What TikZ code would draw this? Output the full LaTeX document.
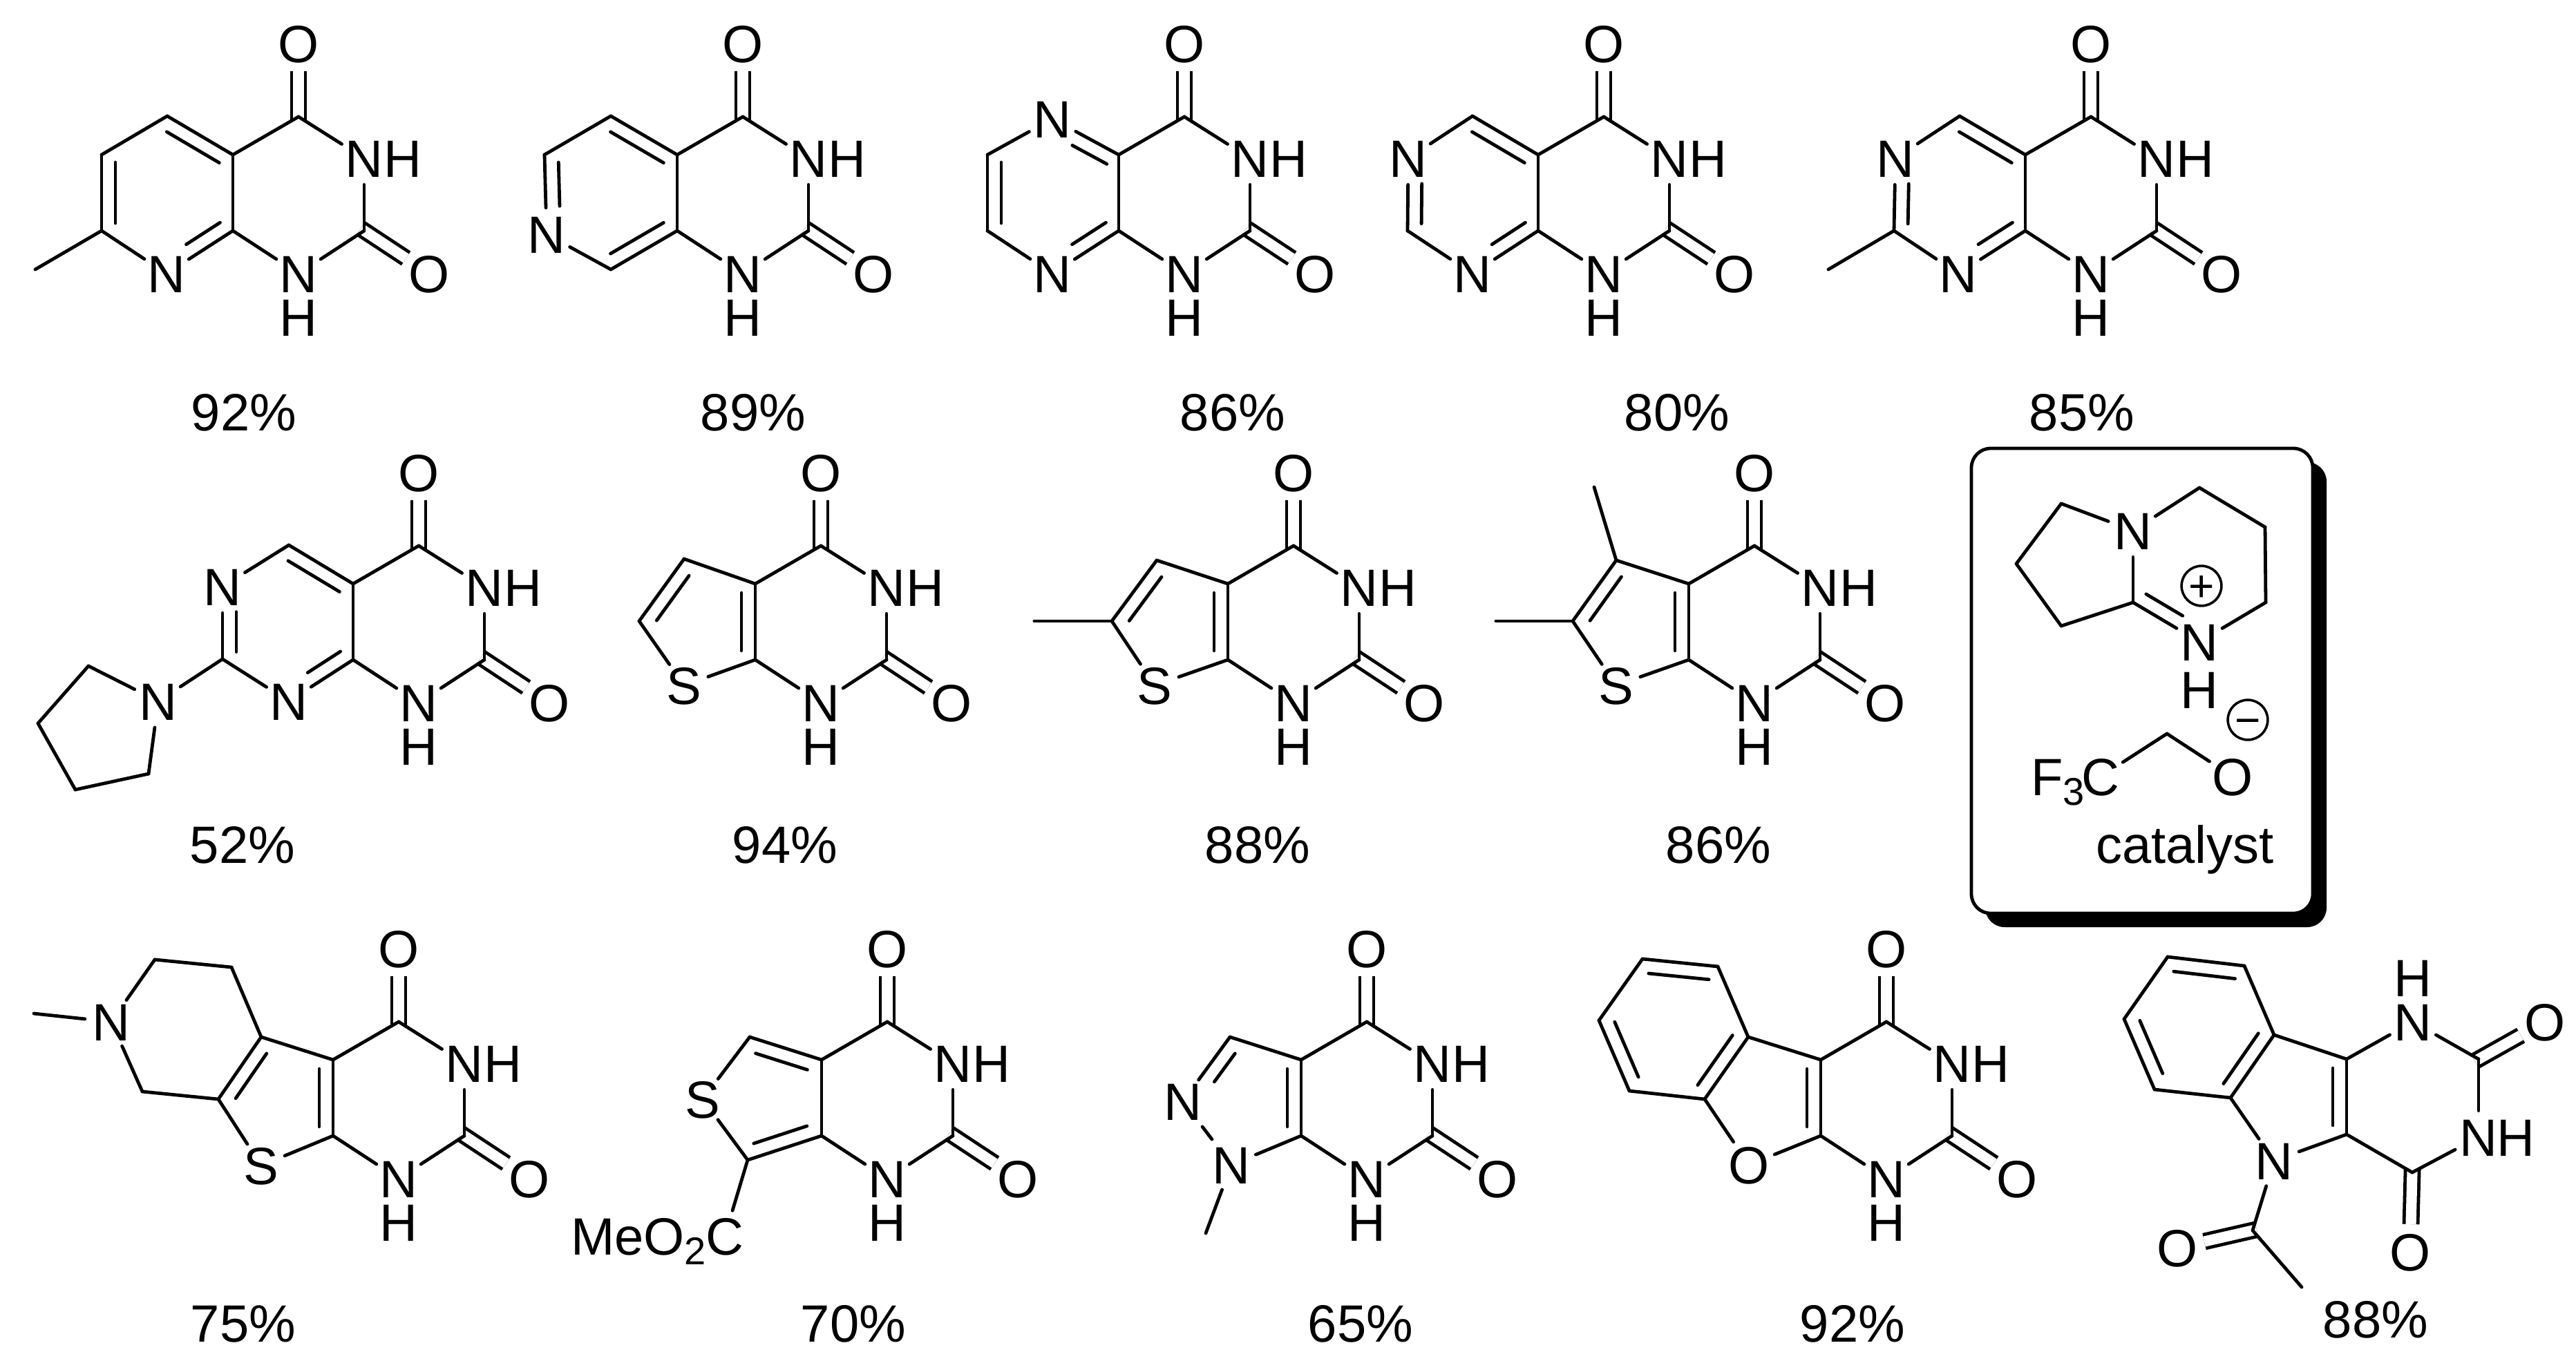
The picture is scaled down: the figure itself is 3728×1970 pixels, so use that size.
\documentclass[tikz,border=0pt]{standalone}
\usepackage{fontspec}
\setmainfont{Liberation Sans}
\usetikzlibrary{calc}

\newcommand{\atomfont}{\fontsize{19}{22}\selectfont}
\newcommand{\subnum}[1]{\raisebox{-3.7pt}{\fontsize{14}{14}\selectfont #1}}

\newcommand{\dbl}[4]{%
  \path[bond] (#1) edge (#2);
  \draw[bond] ($(#1)!#3!(#2)!5pt!90:(#2)$) -- ($(#1)!#4!(#2)!5pt!90:(#2)$);
}

\newcommand{\uracil}[3]{%
  \coordinate (#1c4a) at (#2,#3);
  \coordinate (#1c8a) at (#2,#3+110);
  \coordinate (#1c4) at (#2+95,#3-55);
  \coordinate (#1c2) at (#2+190,#3+110);
  \node[atom] (#1n3) at (#2+190,#3+5) {N};
  \node[atomh] (#1h3) at (#2+246,#3+5) {H};
  \node[atom] (#1n1) at (#2+95,#3+172) {N};
  \node[atomh] (#1h1) at (#2+95,#3+235) {H};
  \node[atom] (#1o4) at (#2+95,#3-161) {O};
  \node[atom] (#1o2) at (#2+284,#3+172) {O};
  \draw[cdo] (#1c4) -- (#1o4);
  \draw[cdo] (#1c2) -- (#1o2);
  \path[bond] (#1c4a) edge (#1c4) (#1c4) edge (#1n3) (#1n3) edge (#1c2)
    (#1c2) edge (#1n1) (#1n1) edge (#1c8a);
}

\begin{document}
\begin{tikzpicture}[
            x = 0.25pt, % one unit is one pixel of the reference
            y = -0.25pt,
        ]

        \tikzstyle{bond}=[
            draw,
            line width = 1.2pt,
            line cap = round
        ]
        \tikzstyle{cdo}=[
            draw,
            line width = 1.2pt,
            double,
            double distance = 3.8pt,
            shorten < = -1.5pt
        ]
        \tikzstyle{atomh}=[
            font = \atomfont,
            inner sep = 0pt,
            outer sep = 0pt,
            text height = 13.5pt,
            text depth = 0pt
        ]
        \tikzstyle{atom}=[atomh, circle]
        \tikzstyle{yield}=[atomh]
        \tikzstyle{charge}=[
            draw,
            circle,
            line width = 0.9pt,
            inner sep = 0pt,
            minimum size = 14.4pt,
            font = \fontsize{16}{16}\selectfont,
            text height = 11pt,
            text depth = 0pt
        ]

  \useasboundingbox (0,0) rectangle (3728,1970);

  % row 1
  \uracil{m1}{337}{224}
  \coordinate (m1c5) at (242,168);
  \coordinate (m1c6) at (147,224);
  \coordinate (m1c7) at (147,334);
  \coordinate (m1me) at (51,390);
  \node[atom] (m1n8) at (241,396) {N};
  \dbl{m1c4a}{m1c5}{.1}{.9}
  \dbl{m1c6}{m1c7}{.1}{.9}
  \dbl{m1n8}{m1c8a}{.41}{.92}
  \path[bond] (m1c4a) edge (m1c8a) (m1c5) edge (m1c6) (m1c7) edge (m1n8) (m1c7) edge (m1me);
  \node[yield] (y1) at (353,596) {92\%};

  \uracil{m2}{980}{224}
  \coordinate (m2c5) at (884,168);
  \coordinate (m2c6) at (788,224);
  \coordinate (m2c8) at (884,390);
  \node[atom] (m2n7) at (791,339) {N};
  \dbl{m2c4a}{m2c5}{.1}{.9}
  \dbl{m2c6}{m2n7}{.1}{.65}
  \dbl{m2c8}{m2c8a}{.1}{.9}
  \path[bond] (m2c4a) edge (m2c8a) (m2c5) edge (m2c6) (m2n7) edge (m2c8);
  \node[yield] (y2) at (1090,596) {89\%};

  \uracil{m3}{1619}{224}
  \coordinate (m3c6) at (1429,224);
  \coordinate (m3c7) at (1429,334);
  \node[atom] (m3n5) at (1523,172) {N};
  \node[atom] (m3n8) at (1523,396) {N};
  \dbl{m3c4a}{m3n5}{.08}{.6}
  \dbl{m3c6}{m3c7}{.1}{.9}
  \dbl{m3n8}{m3c8a}{.41}{.92}
  \path[bond] (m3c4a) edge (m3c8a) (m3n5) edge (m3c6) (m3c7) edge (m3n8);
  \node[yield] (y3) at (1784,596) {86\%};

  \uracil{m4}{2226}{224}
  \coordinate (m4c5) at (2131,168);
  \coordinate (m4c7) at (2037,334);
  \node[atom] (m4n6) at (2038,229) {N};
  \node[atom] (m4n8) at (2131,396) {N};
  \dbl{m4c4a}{m4c5}{.1}{.9}
  \dbl{m4n6}{m4c7}{.35}{.9}
  \dbl{m4n8}{m4c8a}{.41}{.92}
  \path[bond] (m4c4a) edge (m4c8a) (m4c5) edge (m4n6) (m4c7) edge (m4n8);
  \node[yield] (y4) at (2427,596) {80\%};

  \uracil{m5}{2931}{224}
  \coordinate (m5c5) at (2836,168);
  \coordinate (m5c7) at (2741,334);
  \coordinate (m5me) at (2646,390);
  \node[atom] (m5n6) at (2743,229) {N};
  \node[atom] (m5n8) at (2834,396) {N};
  \dbl{m5c4a}{m5c5}{.1}{.9}
  \dbl{m5n6}{m5c7}{.35}{.9}
  \dbl{m5n8}{m5c8a}{.41}{.92}
  \path[bond] (m5c4a) edge (m5c8a) (m5c5) edge (m5n6) (m5c7) edge (m5n8) (m5c7) edge (m5me);
  \node[yield] (y5) at (3013,596) {85\%};

  % row 2
  \uracil{m6}{511}{845}
  \coordinate (m6c5) at (418,789);
  \coordinate (m6c7) at (322,954);
  \coordinate (m6p1) at (128,964);
  \coordinate (m6p2) at (55,1047);
  \coordinate (m6p3) at (109,1143);
  \coordinate (m6p4) at (215,1120);
  \node[atom] (m6n6) at (322,849) {N};
  \node[atom] (m6n8) at (418,1015) {N};
  \node[atom] (m6np) at (229,1015) {N};
  \dbl{m6c4a}{m6c5}{.1}{.9}
  \dbl{m6n6}{m6c7}{.35}{.9}
  \dbl{m6n8}{m6c8a}{.41}{.92}
  \path[bond] (m6c4a) edge (m6c8a) (m6c5) edge (m6n6) (m6c7) edge (m6n8) (m6c7) edge (m6np)
    (m6np) edge (m6p1) (m6p1) edge (m6p2) (m6p2) edge (m6p3) (m6p3) edge (m6p4) (m6p4) edge (m6np);
  \node[yield] (y6) at (351,1222) {52\%};

  \uracil{m7}{1093}{845}
  \coordinate (m7c5) at (990,809);
  \coordinate (m7c6) at (925,899);
  \node[atom] (m7s) at (990,992) {S};
  \dbl{m7c8a}{m7c4a}{.12}{.88}
  \dbl{m7c5}{m7c6}{.14}{.86}
  \path[bond] (m7c4a) edge (m7c5) (m7c6) edge (m7s) (m7s) edge (m7c8a);
  \node[yield] (y7) at (1136,1222) {94\%};

  \uracil{m8}{1777}{845}
  \coordinate (m8c5) at (1674,811);
  \coordinate (m8c6) at (1609,899);
  \coordinate (m8me) at (1497,899);
  \node[atom] (m8s) at (1671,992) {S};
  \dbl{m8c8a}{m8c4a}{.12}{.88}
  \dbl{m8c5}{m8c6}{.14}{.86}
  \path[bond] (m8c4a) edge (m8c5) (m8c6) edge (m8s) (m8s) edge (m8c8a) (m8c6) edge (m8me);
  \node[yield] (y8) at (1820,1222) {88\%};

  \uracil{m9}{2444}{845}
  \coordinate (m9c5) at (2339,811);
  \coordinate (m9c6) at (2276,899);
  \coordinate (m9me) at (2165,899);
  \coordinate (m9mf) at (2307,705);
  \node[atom] (m9s) at (2339,992) {S};
  \dbl{m9c8a}{m9c4a}{.12}{.88}
  \dbl{m9c5}{m9c6}{.14}{.86}
  \path[bond] (m9c4a) edge (m9c5) (m9c6) edge (m9s) (m9s) edge (m9c8a) (m9c6) edge (m9me) (m9c5) edge (m9mf);
  \node[yield] (y9) at (2487,1222) {86\%};

  % catalyst box
  \fill[rounded corners=7pt] (2873,669) rectangle (3367,1342);
  \draw[line width=1.2pt,fill=white,rounded corners=7pt] (2853,649) rectangle (3347,1322);
  \coordinate (ca1) at (2983,729);
  \coordinate (ca2) at (2918,816);
  \coordinate (ca3) at (2983,906);
  \coordinate (cac) at (3087,872);
  \coordinate (ca4) at (3279,872);
  \coordinate (ca5) at (3278,763);
  \coordinate (ca6) at (3183,706);
  \coordinate (caap) at (3136,1062);
  \node[atom] (can1) at (3087,768) {N};
  \node[atom] (can2) at (3183,929) {N};
  \node[atomh] (cah) at (3183,998) {H};
  \node[charge] (caplus) at (3186,848) {+};
  \node[charge] (caminus) at (3253,1042) {−};
  \node[atomh] (caf) at (2978,1124) {F\subnum{3}};
  \node[atom] (caccf) at (3040,1124) {C};
  \node[atom] (cao) at (3231,1124) {O};
  \dbl{cac}{can2}{.09}{.64}
  \path[bond] (can1) edge (ca1) (ca1) edge (ca2) (ca2) edge (ca3) (ca3) edge (cac) (cac) edge (can1)
    (can2) edge (ca4) (ca4) edge (ca5) (ca5) edge (ca6) (ca6) edge (can1)
    (caccf) edge (caap) (caap) edge (cao);
  \node[atomh,text depth=4pt,text height=13.5pt,anchor=base] (calab) at (3162,1249) {catalyst};

  % row 3
  \uracil{m10}{482}{1534}
  \coordinate (m10c5) at (378,1501);
  \coordinate (m10c6) at (316,1591);
  \coordinate (m10k1) at (335,1400);
  \coordinate (m10k2) at (224,1389);
  \coordinate (m10k3) at (206,1580);
  \coordinate (m10me) at (49,1467);
  \node[atom] (m10s) at (378,1687) {S};
  \node[atom] (m10n) at (161,1479) {N};
  \dbl{m10c8a}{m10c4a}{.12}{.88}
  \dbl{m10c5}{m10c6}{.14}{.86}
  \path[bond] (m10c4a) edge (m10c5) (m10c6) edge (m10s) (m10s) edge (m10c8a)
    (m10c5) edge (m10k1) (m10k1) edge (m10k2) (m10k2) edge (m10n) (m10n) edge (m10k3)
    (m10k3) edge (m10c6) (m10n) edge (m10me);
  \node[yield] (y10) at (352,1915) {75\%};

  \uracil{m11}{1189}{1534}
  \coordinate (m11c5) at (1085,1501);
  \coordinate (m11c7) at (1082,1679);
  \node[atom] (m11s) at (1017,1591) {S};
  \node[atom] (m11cc) at (1049,1789) {C};
  \node[atomh,anchor=east] (m11me) at (1022,1789) {MeO\subnum{2}};
  \dbl{m11c4a}{m11c5}{.14}{.86}
  \dbl{m11c7}{m11c8a}{.14}{.86}
  \path[bond] (m11c4a) edge (m11c8a) (m11c5) edge (m11s) (m11s) edge (m11c7) (m11c7) edge (m11cc);
  \node[yield] (y11) at (1235,1915) {70\%};

  \uracil{m12}{1883}{1534}
  \coordinate (m12c5) at (1780,1501);
  \coordinate (m12me) at (1745,1785);
  \node[atom] (m12n6) at (1712,1594) {N};
  \node[atom] (m12n7) at (1782,1686) {N};
  \dbl{m12c8a}{m12c4a}{.12}{.88}
  \dbl{m12c5}{m12n6}{.13}{.57}
  \path[bond] (m12c4a) edge (m12c5) (m12n7) edge (m12c8a) (m12n7) edge (m12me);
  \draw[bond,shorten <=2pt,shorten >=2pt] (m12n6) -- (m12n7);
  \node[yield] (y12) at (1969,1915) {65\%};

  \uracil{m13}{2635}{1534}
  \coordinate (m13c5) at (2530,1501);
  \coordinate (m13c6) at (2467,1591);
  \coordinate (m13r1) at (2486,1399);
  \coordinate (m13r2) at (2377,1388);
  \coordinate (m13r3) at (2314,1477);
  \coordinate (m13r4) at (2358,1579);
  \node[atom] (m13o) at (2531,1686) {O};
  \dbl{m13c8a}{m13c4a}{.12}{.88}
  \dbl{m13c6}{m13c5}{.1}{.9}
  \dbl{m13r1}{m13r2}{.1}{.9}
  \dbl{m13r3}{m13r4}{.1}{.88}
  \path[bond] (m13c4a) edge (m13c5) (m13c5) edge (m13r1) (m13r2) edge (m13r3) (m13r4) edge (m13c6)
    (m13c6) edge (m13o) (m13o) edge (m13c8a);
  \node[yield] (y13) at (2681,1915) {92\%};

  \coordinate (m14r1) at (3137,1385);
  \coordinate (m14r2) at (3248,1398);
  \coordinate (m14r3) at (3291,1498);
  \coordinate (m14r4) at (3228,1589);
  \coordinate (m14r5) at (3118,1577);
  \coordinate (m14r6) at (3074,1475);
  \coordinate (m14c1) at (3396,1533);
  \coordinate (m14c2) at (3396,1642);
  \coordinate (m14c3) at (3587,1533);
  \coordinate (m14c4) at (3491,1697);
  \coordinate (m14ac) at (3260,1781);
  \coordinate (m14me) at (3331,1863);
  \node[atom] (m14n1) at (3492,1479) {N};
  \node[atomh] (m14h1) at (3492,1415) {H};
  \node[atom] (m14n3) at (3587,1646) {N};
  \node[atomh] (m14h3) at (3641,1646) {H};
  \node[atom] (m14n5) at (3291,1680) {N};
  \node[atom] (m14o1) at (3683,1479) {O};
  \node[atom] (m14o2) at (3488,1812) {O};
  \node[atom] (m14o3) at (3151,1806) {O};
  \draw[cdo] (m14c3) -- (m14o1);
  \draw[cdo] (m14c4) -- (m14o2);
  \draw[cdo] (m14ac) -- (m14o3);
  \dbl{m14r2}{m14r1}{.1}{.9}
  \dbl{m14r6}{m14r5}{.1}{.85}
  \dbl{m14r4}{m14r3}{.1}{.9}
  \dbl{m14c2}{m14c1}{.12}{.88}
  \path[bond] (m14r1) edge (m14r6) (m14r2) edge (m14r3) (m14r4) edge (m14r5) (m14r3) edge (m14c1)
    (m14r4) edge (m14n5) (m14n5) edge (m14c2) (m14c1) edge (m14n1) (m14n1) edge (m14c3)
    (m14c3) edge (m14n3) (m14n3) edge (m14c4) (m14c4) edge (m14c2) (m14n5) edge (m14ac) (m14ac) edge (m14me);
  \node[yield] (y14) at (3438,1909) {88\%};

\end{tikzpicture}
\end{document}
